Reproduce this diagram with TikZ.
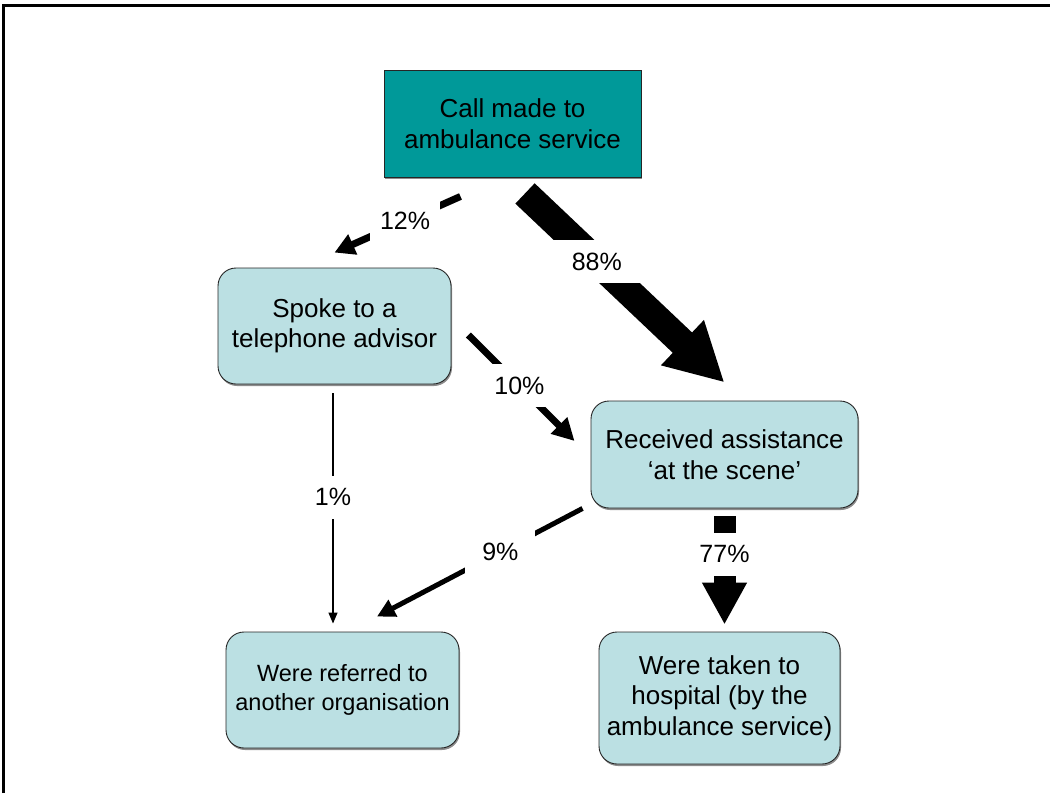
\documentclass[tikz,border=0pt]{standalone}
\usepackage{fontspec}
\setmainfont{Liberation Sans}
\usepackage{tikz}
\usetikzlibrary{arrows.meta, positioning, shadows}
\definecolor{callteal}{RGB}{0,153,153}
\definecolor{outblue}{RGB}{187,224,227}
\tikzset{
  box/.style={rectangle, draw=black!85, line width=0.9pt, align=center,
              font=\fontsize{26}{30.5}\selectfont, inner sep=0pt,
              drop shadow={shadow xshift=1pt, shadow yshift=-2pt,
                           fill=black!45, opacity=1}},
  outcome/.style={box, fill=outblue, rounded corners=18pt},
  pct/.style={fill=white, inner sep=0pt, minimum width=70pt,
              minimum height=43pt, font=\fontsize{25}{28}\selectfont},
  flow/.style n args={3}{line width=#1, -{Triangle[width=#2, length=#3]}},
}

\begin{document}
\begin{tikzpicture}[x=1pt, y=-1pt]
  \useasboundingbox (0,0) rectangle (1050,793);
  \draw[line width=3pt] (3.5,793) -- (3.5,5.5) -- (1050,5.5);
  \node[box, fill=callteal, minimum width=257pt, minimum height=107pt] (call) at (512.5,123.5) {Call made to\\ambulance service};
  \node[outcome, minimum width=233pt, minimum height=116pt] (advice) at (334.5,326) {Spoke to a\\telephone advisor};
  \node[outcome, minimum width=267pt, minimum height=107pt] (scene) at (724.5,454.5) {Received assistance\\`at the scene'};
  \node[outcome, minimum width=233pt, minimum height=116pt, font=\fontsize{23.5}{29}\selectfont] (referral) at (342.5,690) {Were referred to\\another organisation};
  \node[outcome, minimum width=241pt, minimum height=132pt] (hosp) at (719.5,698) {Were taken to\\hospital (by the\\ambulance service)};
  \draw[flow={7pt}{21pt}{20pt}] ([xshift=-52pt,yshift=-19pt]call.south) -- node[pct, pos=0.44] {12\%} ([yshift=15pt]advice.north);
  \draw[flow={28pt}{58pt}{58pt}] ([xshift=12.5pt,yshift=-16pt]call.south) -- node[pct, pos=0.36, minimum width=100pt] {88\%} ([yshift=18pt]scene.north);
  \draw[flow={7pt}{22pt}{22pt}] ([xshift=17pt,yshift=-9pt]advice.east) -- node[pct, pos=0.48] {10\%} ([xshift=-16pt,yshift=13.5pt]scene.west);
  \draw[flow={1.3pt}{9pt}{11pt}] ([xshift=-1.5pt,yshift=-9pt]advice.south) -- node[pct, pos=0.45] {1\%} ([xshift=-9.5pt,yshift=8pt]referral.north);
  \draw[flow={5pt}{18pt}{18pt}] ([xshift=-8pt]scene.south west) -- node[pct, pos=0.40] {9\%} ([xshift=34.5pt,yshift=15pt]referral.north);
  \draw[flow={22pt}{42pt}{42pt}] ([yshift=-8pt]scene.south) -- node[pct, pos=0.35] {77\%} ([xshift=5pt,yshift=7pt]hosp.north);
\end{tikzpicture}
\end{document}
